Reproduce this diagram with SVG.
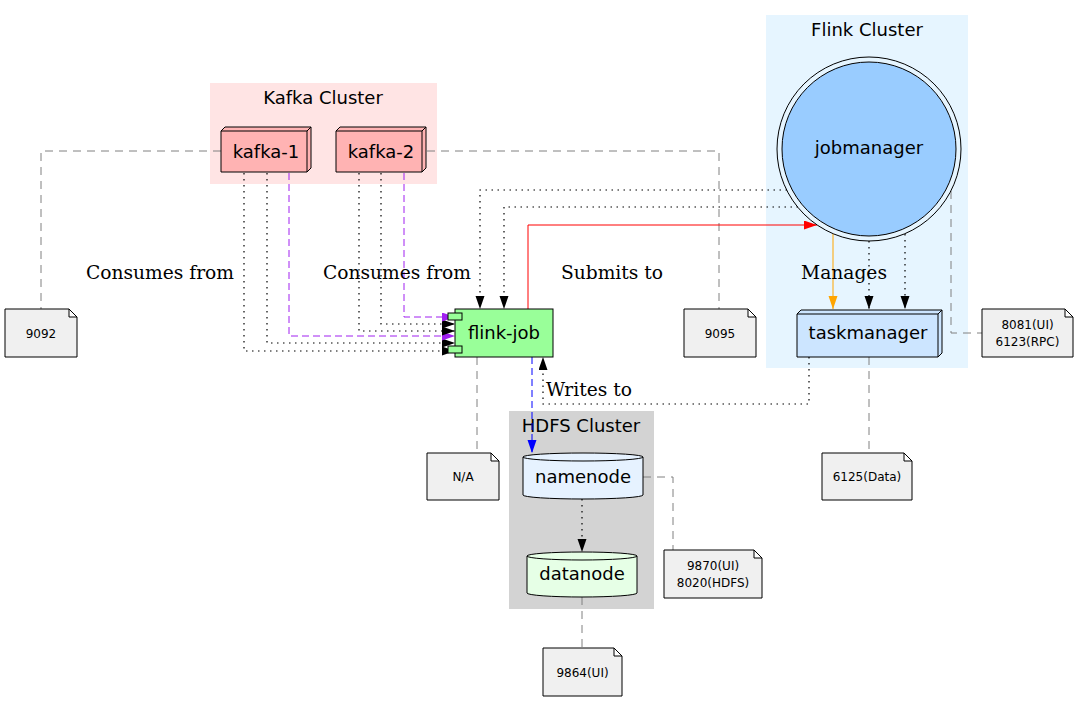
<svg xmlns="http://www.w3.org/2000/svg" width="1079" height="701" viewBox="0 0 1079 701">
<style>
.nl{font-family:"DejaVu Sans",sans-serif;font-size:18px;text-anchor:middle;fill:#000}
.cl{font-family:"DejaVu Sans",sans-serif;font-size:18px;text-anchor:middle;fill:#000}
.el{font-family:"DejaVu Serif",serif;font-size:18.67px;fill:#000}
.nt{font-family:"DejaVu Sans",sans-serif;font-size:12px;text-anchor:middle;fill:#000}
.note{fill:#f0f0f0;stroke:#000;stroke-width:1}
.sh{stroke:#000;stroke-width:1}
.e{fill:none;stroke-width:1}
.dot{stroke:#000;stroke-width:1.2;stroke-dasharray:1.5,4.5}
.pur{stroke:#a020f0;stroke-dasharray:7,4}
.gr{fill:none;stroke:#808080;stroke-width:1;stroke-dasharray:8,6}
</style>
<defs>
<marker id="ak" markerUnits="userSpaceOnUse" markerWidth="14" markerHeight="10" refX="13" refY="4.5" orient="auto"><path d="M0,0 L13,4.5 L0,9 z" fill="#000"/></marker>
<marker id="ap" markerUnits="userSpaceOnUse" markerWidth="14" markerHeight="10" refX="13" refY="4.5" orient="auto"><path d="M0,0 L13,4.5 L0,9 z" fill="#a020f0"/></marker>
<marker id="ar" markerUnits="userSpaceOnUse" markerWidth="14" markerHeight="10" refX="13" refY="4.5" orient="auto"><path d="M0,0 L13,4.5 L0,9 z" fill="#ff0000"/></marker>
<marker id="ao" markerUnits="userSpaceOnUse" markerWidth="14" markerHeight="10" refX="13" refY="4.5" orient="auto"><path d="M0,0 L13,4.5 L0,9 z" fill="#ffa500"/></marker>
<marker id="ab" markerUnits="userSpaceOnUse" markerWidth="14" markerHeight="10" refX="13" refY="4.5" orient="auto"><path d="M0,0 L13,4.5 L0,9 z" fill="#0000ff"/></marker>
</defs>
<rect width="1079" height="701" fill="#fff"/>

<g id="cluster-kafka">
<rect x="210" y="83" width="227" height="101" fill="#ffe4e4"/>
<text class="cl" x="323" y="104">Kafka Cluster</text>
</g>
<g id="cluster-flink">
<rect x="766" y="15" width="202" height="353" fill="#e6f5ff"/>
<text class="cl" x="867" y="36">Flink Cluster</text>
</g>
<g id="cluster-hdfs">
<rect x="509" y="411" width="145" height="198" fill="#d3d3d3"/>
<text class="cl" x="581" y="432">HDFS Cluster</text>
</g>

<g id="connectors">
<path class="gr" d="M221,151 H41 V309"/>
<path class="gr" d="M427,151 H719 V309"/>
<path class="gr" d="M477,357 V453"/>
<path class="gr" d="M951,191 V333 H982"/>
<path class="gr" d="M869,357 V453"/>
<path class="gr" d="M643,477 H673 V550"/>
<path class="gr" d="M582,597 V648"/>

<path class="e dot" d="M244,173 V351 H455" marker-end="url(#ak)"/>
<path class="e dot" d="M267,173 V343 H455" marker-end="url(#ak)"/>
<path class="e pur" d="M289,173 V336 H455" marker-end="url(#ap)"/>
<path class="e dot" d="M359,173 V331 H455" marker-end="url(#ak)"/>
<path class="e dot" d="M381,173 V324 H455" marker-end="url(#ak)"/>
<path class="e pur" d="M404,173 V317 H455" marker-end="url(#ap)"/>

<path class="e dot" d="M787,190 H480 V309" marker-end="url(#ak)"/>
<path class="e dot" d="M798,207 H504 V309" marker-end="url(#ak)"/>
<path class="e" stroke="#ff0000" d="M528,309 V225 H817" marker-end="url(#ar)"/>
<path class="e" stroke="#ffa500" d="M833,234 V309" marker-end="url(#ao)"/>
<path class="e dot" d="M869,241 V309" marker-end="url(#ak)"/>
<path class="e dot" d="M905,234 V309" marker-end="url(#ak)"/>
<path class="e dot" d="M809,357 V404 H543 V357" marker-end="url(#ak)"/>
<path class="e" stroke="#0000ff" stroke-dasharray="7,4" d="M532,357 V453" marker-end="url(#ab)"/>
<path class="e dot" d="M582,499 V552" marker-end="url(#ak)"/>

<text class="el" x="160" y="279" text-anchor="middle">Consumes from</text>
<text class="el" x="397" y="279" text-anchor="middle">Consumes from</text>
<text class="el" x="612" y="279" text-anchor="middle">Submits to</text>
<text class="el" x="844" y="279" text-anchor="middle">Manages</text>
<text class="el" x="546" y="396">Writes to</text>
</g>

<g id="kafka-1">
<path class="sh" fill="#ffb3b3" d="M221,172 V131 L225,127 H311 V168 L307,172 Z"/>
<path class="sh" fill="none" d="M221,131 H307 V172 M307,131 L311,127"/>
<text class="nl" x="266" y="158">kafka-1</text>
</g>
<g id="kafka-2">
<path class="sh" fill="#ffb3b3" d="M336,172 V131 L340,127 H426 V168 L422,172 Z"/>
<path class="sh" fill="none" d="M336,131 H422 V172 M422,131 L426,127"/>
<text class="nl" x="381" y="158">kafka-2</text>
</g>

<g id="flink-job">
<rect class="sh" x="455" y="309" width="98" height="48" fill="#99ff99"/>
<rect class="sh" x="448" y="313" width="14" height="7" fill="#99ff99"/>
<rect class="sh" x="448" y="346" width="14" height="7" fill="#99ff99"/>
<text class="nl" x="504" y="339">flink-job</text>
</g>

<g id="jobmanager">
<circle class="sh" cx="869" cy="149" r="92" fill="none"/>
<circle class="sh" cx="869" cy="149" r="87" fill="#99ccff"/>
<text class="nl" x="869" y="154">jobmanager</text>
</g>

<g id="taskmanager">
<path class="sh" fill="#cce5ff" d="M797,357 V314 L801,310 H942 V353 L938,357 Z"/>
<path class="sh" fill="none" d="M797,314 H938 V357 M938,314 L942,310"/>
<text class="nl" x="868" y="339">taskmanager</text>
</g>

<g id="namenode">
<path class="sh" fill="#e6f2ff" d="M523,457 V495 A60,4 0 0 0 643,495 V457 A60,4 0 0 0 523,457 Z"/>
<path class="sh" fill="none" d="M523,457 A60,4 0 0 0 643,457"/>
<text class="nl" x="583" y="483">namenode</text>
</g>
<g id="datanode">
<path class="sh" fill="#e6ffe6" d="M527,556 V593 A55,4 0 0 0 637,593 V556 A55,4 0 0 0 527,556 Z"/>
<path class="sh" fill="none" d="M527,556 A55,4 0 0 0 637,556"/>
<text class="nl" x="582" y="580">datanode</text>
</g>

<g id="note-9092">
<path class="note" d="M5,309 H69 L77,317 V357 H5 Z M69,309 V317 H77"/>
<text class="nt" x="41" y="337.5">9092</text>
</g>
<g id="note-9095">
<path class="note" d="M684,309 H748 L756,317 V357 H684 Z M748,309 V317 H756"/>
<text class="nt" x="720" y="337.5">9095</text>
</g>
<g id="note-na">
<path class="note" d="M427,453 H491 L499,461 V500 H427 Z M491,453 V461 H499"/>
<text class="nt" x="463" y="481">N/A</text>
</g>
<g id="note-jm">
<path class="note" d="M982,309 H1065 L1073,317 V357 H982 Z M1065,309 V317 H1073"/>
<text class="nt" x="1027.5" y="329">8081(UI)</text>
<text class="nt" x="1027.5" y="345.5">6123(RPC)</text>
</g>
<g id="note-tm">
<path class="note" d="M822,453 H904 L912,461 V500 H822 Z M904,453 V461 H912"/>
<text class="nt" x="867" y="481">6125(Data)</text>
</g>
<g id="note-nn">
<path class="note" d="M664,550 H754 L762,558 V598 H664 Z M754,550 V558 H762"/>
<text class="nt" x="713" y="570">9870(UI)</text>
<text class="nt" x="713" y="586.5">8020(HDFS)</text>
</g>
<g id="note-dn">
<path class="note" d="M543,648 H614 L622,656 V696 H543 Z M614,648 V656 H622"/>
<text class="nt" x="582.5" y="676.5">9864(UI)</text>
</g>
</svg>
